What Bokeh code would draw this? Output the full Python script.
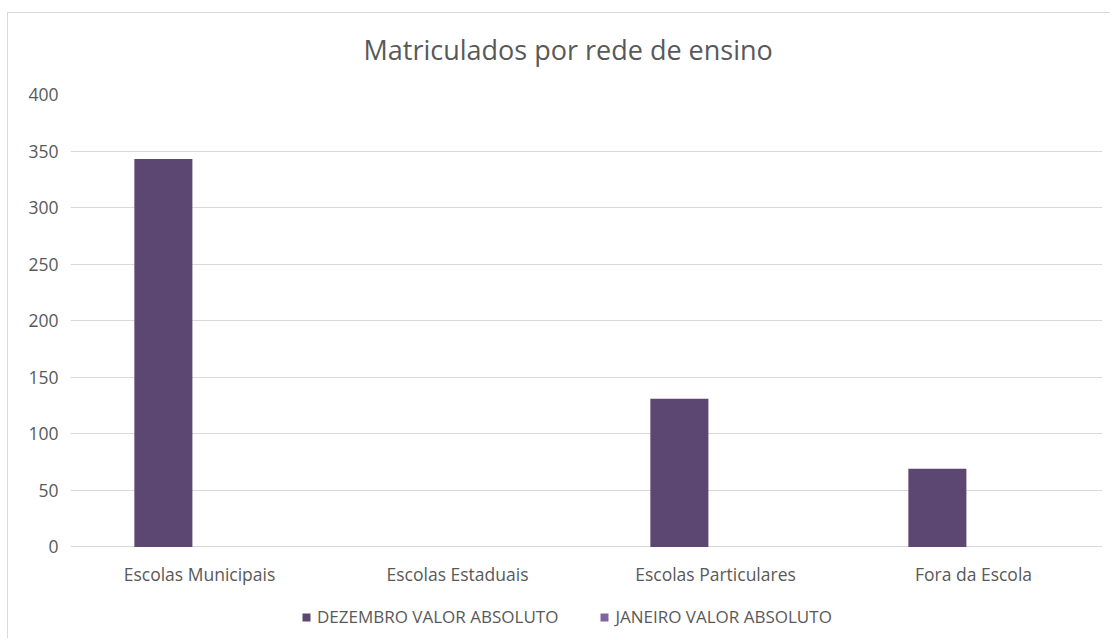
from bokeh.plotting import figure
from bokeh.models import FactorRange, Legend, LegendItem, ColumnDataSource, Range1d, FixedTicker
from bokeh.core.properties import value
from bokeh.transform import dodge
from bokeh.embed import file_html
from bokeh.resources import INLINE

categories = ["Escolas Municipais", "Escolas Estaduais", "Escolas Particulares", "Fora da Escola"]
dezembro = [343, 0, 131, 69]
janeiro = [0, 0, 0, 0]
series_names = ["DEZEMBRO VALOR ABSOLUTO", "JANEIRO VALOR ABSOLUTO"]
y_ticks = [0, 50, 100, 150, 200, 250, 300, 350, 400]
colors = ["#5C4672", "#8064A2"]

FONT = "Open Sans"
TEXT_COLOR = "#595959"

src = ColumnDataSource(dict(cat=categories, dez=dezembro, jan=janeiro))

# frame extends below zero so the category labels and legend sit inside it
p = figure(x_range=FactorRange(*categories, range_padding=0), y_range=Range1d(-81, 400),
           frame_width=1032, frame_height=544, output_backend="svg", toolbar_location=None,
           min_border_left=63, min_border_right=8, min_border_top=0, min_border_bottom=0)
p.border_fill_alpha = 0
p.background_fill_color = "white"
p.styles = {
    "margin-top": "1px", "margin-left": "7px",
    "background-image": "linear-gradient(#d9d9d9, #d9d9d9), linear-gradient(#d9d9d9, #d9d9d9)",
    "background-size": "100% 1px, 1px 100%",
    "background-position": "0px 11px, 0px 11px",
    "background-repeat": "no-repeat",
}

r1 = p.vbar(x=dodge("cat", -0.14, range=p.x_range), top="dez", width=0.225, source=src,
            fill_color=colors[0], line_color=None)
r2 = p.vbar(x=dodge("cat", 0.14, range=p.x_range), top="jan", width=0.225, source=src,
            fill_color=colors[1], line_color=None)

# category labels (x axis)
p.text(x="cat", y=-24.4, text="cat", source=src, text_align="center", text_baseline="middle",
       text_font=value(FONT), text_font_size="17.5px", text_color=TEXT_COLOR)

p.title.text = "Matriculados por rede de ensino"
p.title.align = "left"
p.title.offset = 293
p.title.text_font = FONT
p.title.text_font_size = "27px"
p.title.text_font_style = "normal"
p.title.text_color = TEXT_COLOR
p.title.standoff = 54

p.outline_line_color = None
p.xaxis.visible = False
p.xgrid.grid_line_color = None
p.ygrid.grid_line_color = "#d9d9d9"
p.ygrid.grid_line_width = 1
p.yaxis.ticker = FixedTicker(ticks=y_ticks)

ax = p.yaxis[0]
ax.axis_line_color = None
ax.major_tick_line_color = None
ax.minor_tick_line_color = None
ax.major_tick_out = 0
ax.major_tick_in = 0
ax.major_label_text_font = FONT
ax.major_label_text_font_size = "17.5px"
ax.major_label_text_color = TEXT_COLOR
ax.major_label_standoff = 12

legend = Legend(items=[LegendItem(label=series_names[0], renderers=[r1]),
                       LegendItem(label=series_names[1], renderers=[r2])],
                orientation="horizontal", location=(231, 10),
                border_line_color=None, background_fill_alpha=0,
                glyph_width=10, glyph_height=10, label_standoff=6, spacing=41,
                label_text_font=FONT, label_text_font_size="17px", label_text_color=TEXT_COLOR,
                padding=2, margin=0)
p.add_layout(legend, "center")

open("out.html", "w").write(file_html(p, INLINE))
